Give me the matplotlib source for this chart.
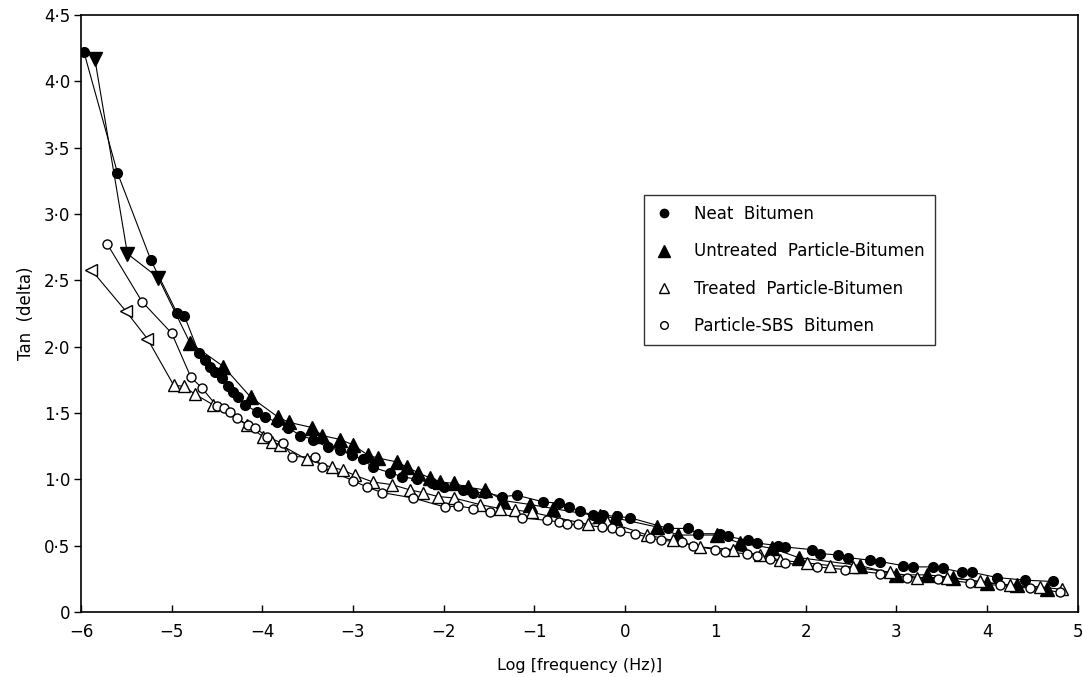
import numpy as np
import matplotlib.pyplot as plt
from matplotlib.lines import Line2D

# Neat Bitumen (filled circles)
nb_x = [-5.97, -5.60, -5.23, -4.94, -4.86, -4.70, -4.63, -4.58, -4.52, -4.45, -4.38, -4.32, -4.27,
        -4.19, -4.06, -3.97, -3.84, -3.72, -3.58, -3.44, -3.28, -3.14, -3.01, -2.89, -2.78, -2.59,
        -2.46, -2.29, -2.13, -2.00, -1.78, -1.67, -1.54, -1.35, -1.19, -0.90, -0.73, -0.61, -0.49,
        -0.35, -0.24, -0.08, 0.06, 0.48, 0.70, 0.81, 1.05, 1.14, 1.36, 1.46, 1.69, 1.77, 2.07, 2.16,
        2.36, 2.47, 2.71, 2.82, 3.07, 3.18, 3.40, 3.51, 3.72, 3.83, 4.11, 4.42, 4.73]
nb_y = [4.22, 3.31, 2.65, 2.25, 2.23, 1.95, 1.90, 1.85, 1.81, 1.76, 1.70, 1.66, 1.62,
        1.56, 1.51, 1.47, 1.43, 1.39, 1.33, 1.30, 1.24, 1.22, 1.18, 1.15, 1.09, 1.05,
        1.02, 1.00, 0.97, 0.94, 0.92, 0.90, 0.90, 0.87, 0.88, 0.83, 0.82, 0.79, 0.76,
        0.73, 0.73, 0.72, 0.71, 0.63, 0.63, 0.59, 0.59, 0.57, 0.54, 0.52, 0.50, 0.49, 0.47, 0.44,
        0.43, 0.41, 0.39, 0.38, 0.35, 0.34, 0.34, 0.33, 0.30, 0.30, 0.26, 0.24, 0.23]

# Untreated Particle-Bitumen (filled triangles)
ut_x = [-5.85, -5.49, -5.15, -4.80, -4.43, -4.13, -3.83, -3.71, -3.45, -3.34, -3.14, -3.00, -2.83,
        -2.72, -2.51, -2.40, -2.28, -2.15, -2.04, -1.89, -1.73, -1.54, -1.34, -1.04, -0.79, -0.27,
        -0.11, 0.36, 0.59, 1.02, 1.27, 1.63, 1.92, 2.60, 3.00, 3.34, 3.62, 4.00, 4.33, 4.66]
ut_y = [4.17, 2.70, 2.52, 2.03, 1.85, 1.62, 1.47, 1.43, 1.39, 1.33, 1.30, 1.26, 1.18,
        1.16, 1.13, 1.09, 1.05, 1.01, 0.98, 0.97, 0.94, 0.92, 0.84, 0.81, 0.78, 0.72,
        0.71, 0.64, 0.58, 0.58, 0.52, 0.48, 0.41, 0.35, 0.28, 0.28, 0.26, 0.22, 0.20, 0.17]

# Treated Particle-Bitumen (open triangles)
tr_x = [-5.89, -5.51, -5.27, -4.98, -4.87, -4.74, -4.54, -4.17, -3.99, -3.89, -3.80, -3.51, -3.23,
        -3.11, -2.98, -2.78, -2.57, -2.37, -2.23, -2.06, -1.89, -1.60, -1.38, -1.21, -1.02, -0.40,
        -0.19, 0.25, 0.53, 0.83, 1.20, 1.49, 1.72, 2.01, 2.27, 2.52, 2.93, 3.23, 3.56, 3.92, 4.25,
        4.58, 4.83]
tr_y = [2.58, 2.27, 2.06, 1.71, 1.70, 1.64, 1.56, 1.41, 1.32, 1.28, 1.26, 1.15, 1.09,
        1.07, 1.03, 0.98, 0.96, 0.92, 0.90, 0.87, 0.86, 0.81, 0.78, 0.77, 0.75, 0.66,
        0.68, 0.58, 0.54, 0.49, 0.47, 0.43, 0.39, 0.37, 0.35, 0.34, 0.30, 0.26, 0.26, 0.23, 0.20,
        0.19, 0.17]

# Particle-SBS Bitumen (open circles)
sb_x = [-5.71, -5.33, -5.00, -4.79, -4.67, -4.50, -4.42, -4.36, -4.28, -4.16, -4.08, -3.95, -3.77,
        -3.67, -3.42, -3.34, -3.00, -2.84, -2.68, -2.34, -1.98, -1.84, -1.67, -1.49, -1.13, -0.86,
        -0.73, -0.64, -0.51, -0.25, -0.14, -0.05, 0.11, 0.28, 0.40, 0.63, 0.75, 1.00, 1.11, 1.35,
        1.46, 1.60, 1.77, 2.12, 2.43, 2.82, 3.12, 3.46, 3.81, 4.14, 4.47, 4.81]
sb_y = [2.77, 2.34, 2.10, 1.77, 1.69, 1.55, 1.54, 1.51, 1.46, 1.41, 1.39, 1.32, 1.27,
        1.17, 1.17, 1.09, 0.99, 0.94, 0.90, 0.86, 0.79, 0.80, 0.78, 0.75, 0.71, 0.69,
        0.68, 0.66, 0.66, 0.64, 0.63, 0.61, 0.59, 0.56, 0.54, 0.53, 0.50, 0.47, 0.45, 0.44,
        0.42, 0.40, 0.37, 0.34, 0.32, 0.29, 0.26, 0.25, 0.22, 0.20, 0.18, 0.15]

labels = ['Neat  Bitumen', 'Untreated  Particle-Bitumen',
          'Treated  Particle-Bitumen', 'Particle-SBS  Bitumen']

x_ticks = list(range(-6, 6))
x_ticklabels = ['\u22126', '\u22125', '\u22124', '\u22123', '\u22122', '\u22121',
                '0', '1', '2', '3', '4', '5']
y_ticks = [0, 0.5, 1.0, 1.5, 2.0, 2.5, 3.0, 3.5, 4.0, 4.5]
y_ticklabels = ['0', '0\u00b75', '1\u00b70', '1\u00b75', '2\u00b70', '2\u00b75',
                '3\u00b70', '3\u00b75', '4\u00b70', '4\u00b75']

plt.rcParams['font.family'] = ['DejaVu Sans']

fig = plt.figure(figsize=(10.83, 6.77), dpi=100)
ax = fig.add_axes([0.075, 0.096, 0.920, 0.882])

# thin connecting lines
for xs, ys in [(nb_x, nb_y), (ut_x, ut_y), (tr_x, tr_y), (sb_x, sb_y)]:
    ax.plot(xs, ys, '-', color='k', lw=0.8, zorder=2)

# markers (the first few triangles sit rotated on the steep part)
ax.plot(nb_x, nb_y, 'o', ms=7, mfc='k', mec='k', ls='none', zorder=3)
ax.plot(ut_x[:3], ut_y[:3], 'v', ms=10, mfc='k', mec='k', ls='none', zorder=3)
ax.plot(ut_x[3:], ut_y[3:], '^', ms=10, mfc='k', mec='k', ls='none', zorder=3)
ax.plot(tr_x[:3], tr_y[:3], '<', ms=9, mfc='white', mec='k', mew=1.0, ls='none', zorder=4)
ax.plot(tr_x[3:], tr_y[3:], '^', ms=9, mfc='white', mec='k', mew=1.0, ls='none', zorder=4)
ax.plot(sb_x, sb_y, 'o', ms=6.5, mfc='white', mec='k', mew=1.0, ls='none', zorder=4)

ax.set_xlim(-6, 5)
ax.set_ylim(0, 4.5)
ax.set_xticks(x_ticks)
ax.set_xticklabels(x_ticklabels, fontsize=12)
ax.set_yticks(y_ticks)
ax.set_yticklabels(y_ticklabels, fontsize=12)
ax.tick_params(axis='x', direction='in', length=5, width=1, pad=8)
ax.tick_params(axis='y', direction='out', length=5, width=1, pad=3)
for s in ax.spines.values():
    s.set_linewidth(1.2)

ax.set_xlabel('Log [frequency (Hz)]', fontsize=11.5, labelpad=12)
ax.set_ylabel('Tan  (delta)', fontsize=12, labelpad=6)

handles = [
    Line2D([], [], marker='o', ls='none', ms=6, mfc='k', mec='k'),
    Line2D([], [], marker='^', ls='none', ms=9, mfc='k', mec='k'),
    Line2D([], [], marker='^', ls='none', ms=7, mfc='white', mec='k'),
    Line2D([], [], marker='o', ls='none', ms=5.5, mfc='white', mec='k'),
]
leg = ax.legend(handles, labels, loc='upper left', bbox_to_anchor=(0.565, 0.698),
                fontsize=12, frameon=True, fancybox=False, edgecolor='k',
                labelspacing=1.15, handlelength=1.2, handletextpad=1.2,
                borderpad=0.6, borderaxespad=0)
leg.get_frame().set_linewidth(1.0)

fig.savefig('out.png', dpi=100)
